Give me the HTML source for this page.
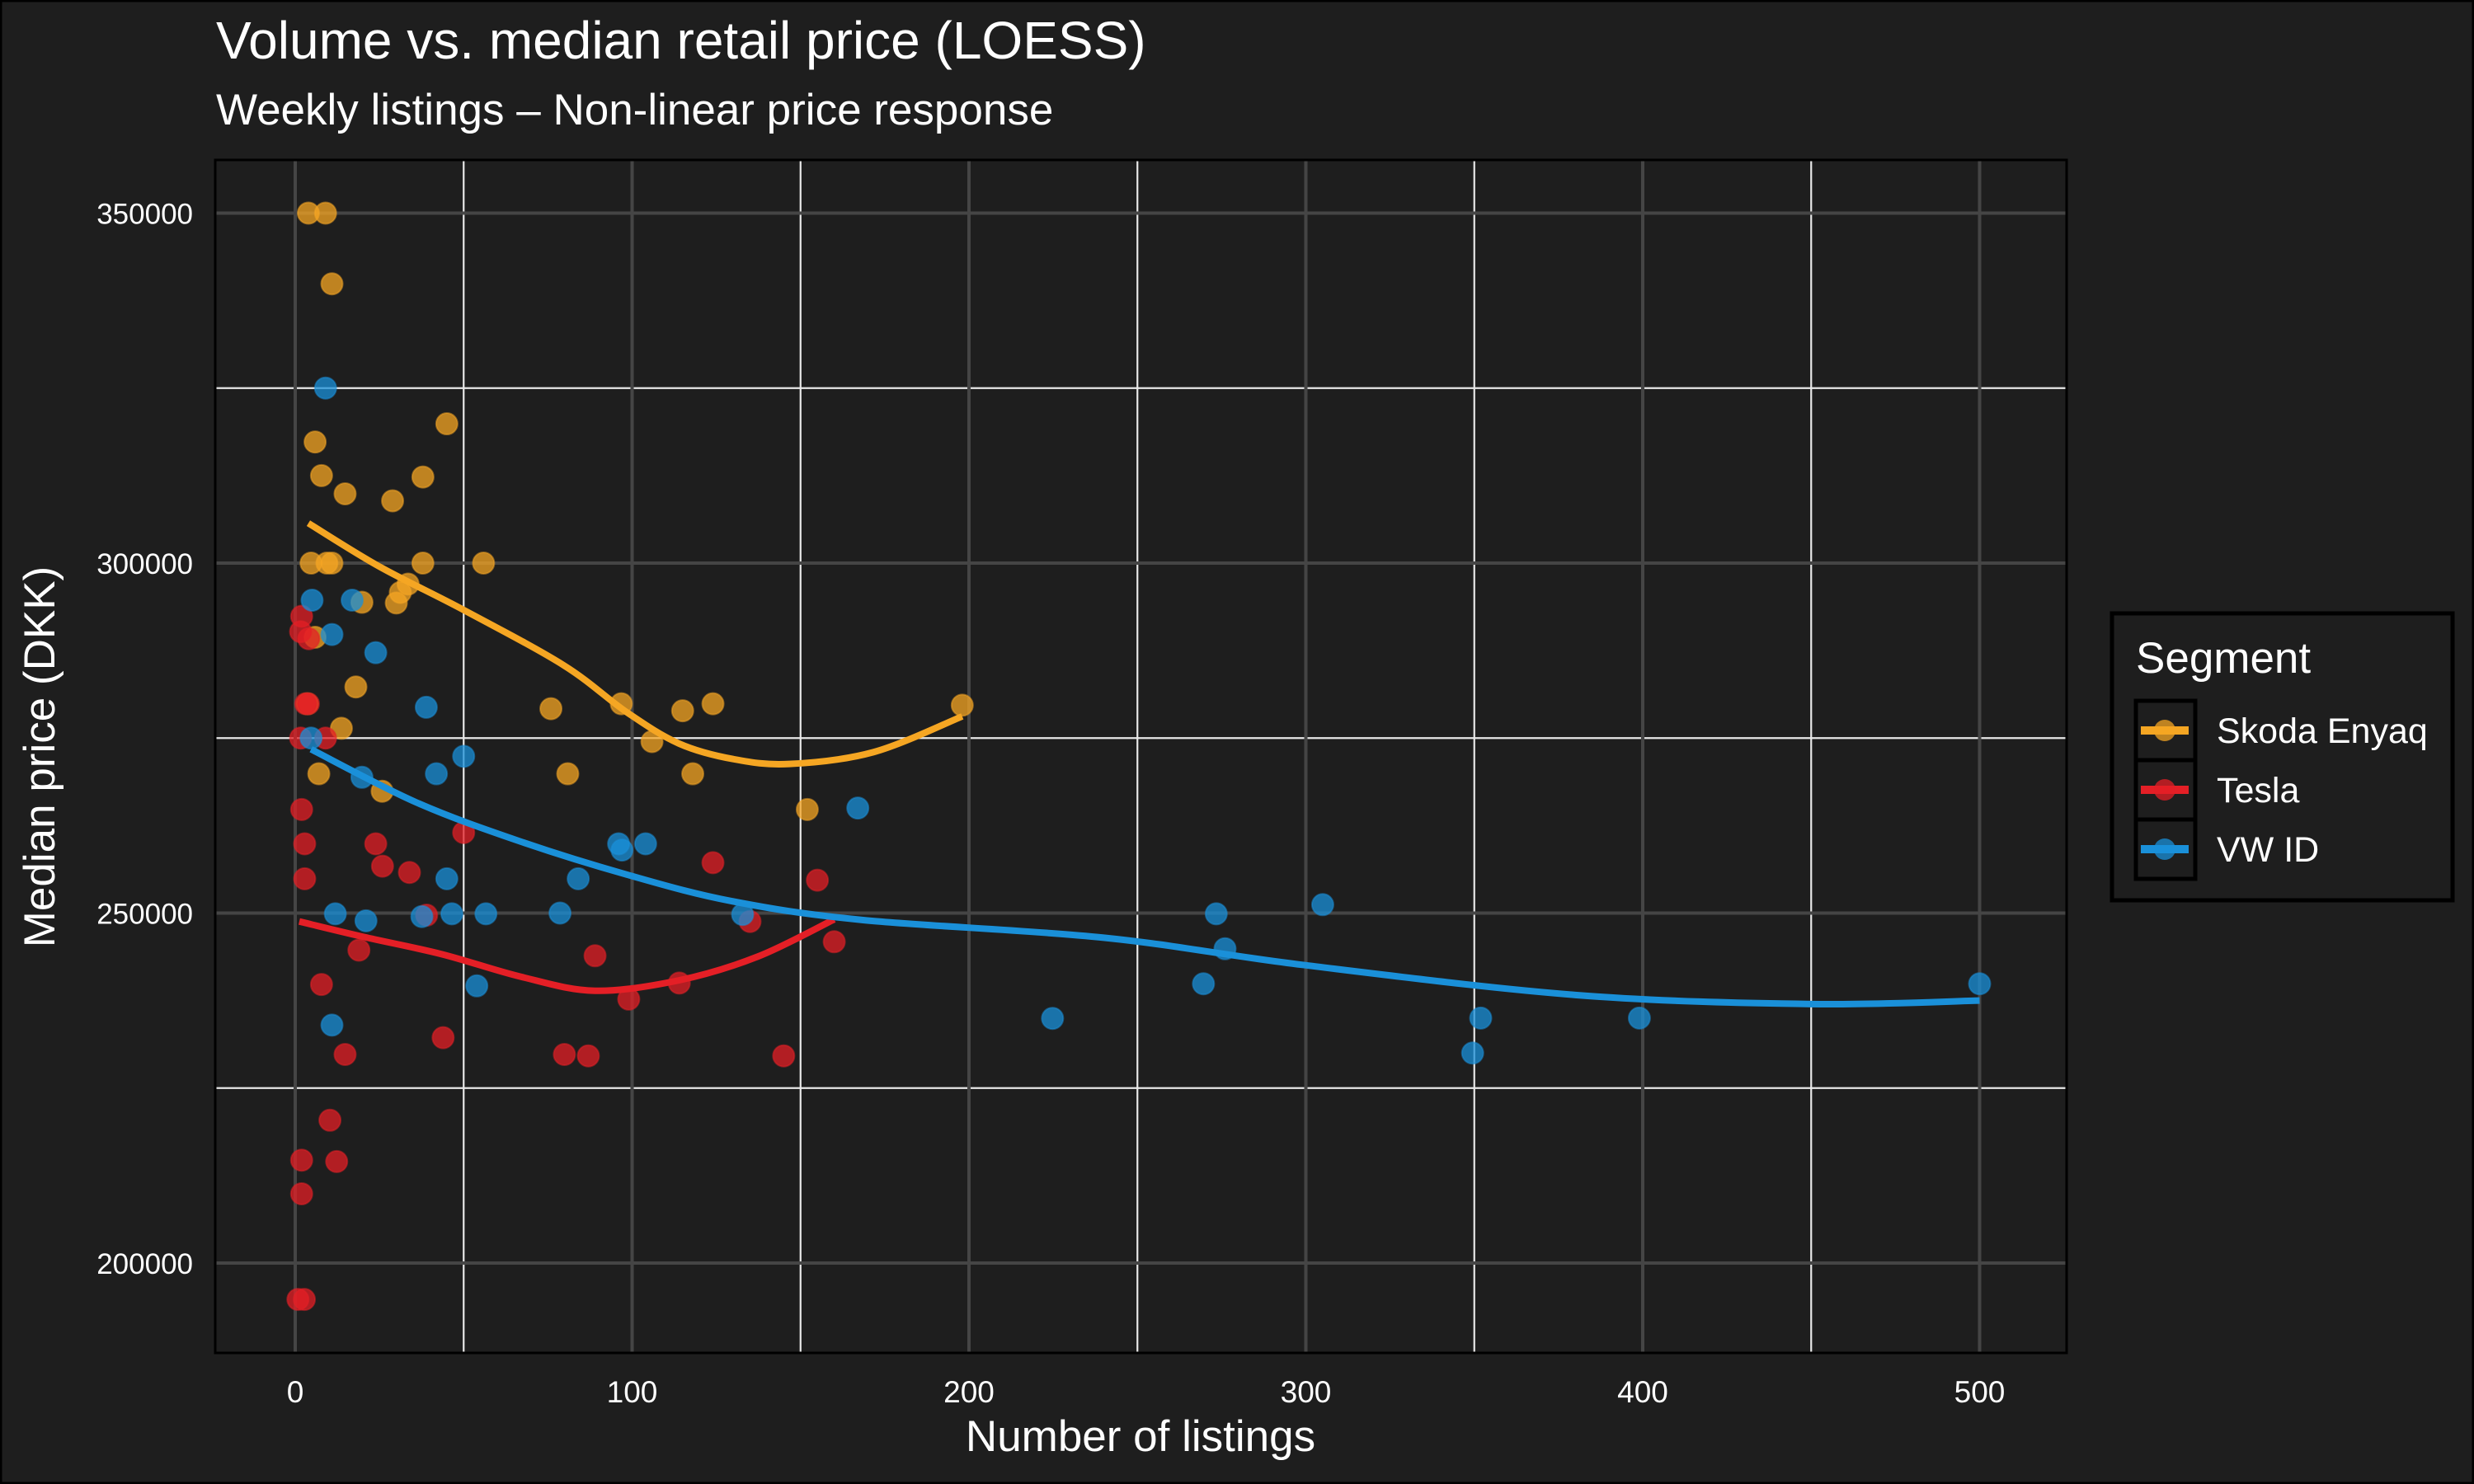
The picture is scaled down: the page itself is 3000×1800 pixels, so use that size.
<!DOCTYPE html>
<html><head><meta charset="utf-8"><style>
html,body{margin:0;padding:0;background:#1e1e1e;}
svg{display:block;font-family:"Liberation Sans",sans-serif;}
</style></head><body>
<svg id="chart" width="3000" height="1800" viewBox="0 0 3000 1800">
<rect x="1" y="1" width="2998" height="1798" fill="#1e1e1e" stroke="#000" stroke-width="3"/>
<text x="262" y="71" fill="#fff" font-size="64">Volume vs. median retail price (LOESS)</text>
<text x="262" y="151" fill="#fff" font-size="53">Weekly listings – Non-linear price response</text>
<g id="grid"></g>
<g id="axes"></g>
<g id="marks"></g>
<rect x="261" y="194" width="2245" height="1447" fill="none" stroke="#000" stroke-width="3"/>
<text x="1383" y="1760" fill="#fff" font-size="53" text-anchor="middle">Number of listings</text>
<text x="0" y="0" fill="#fff" font-size="53" text-anchor="middle" transform="translate(66,918) rotate(-90)">Median price (DKK)</text>
<g>
<rect x="2561" y="744" width="413" height="348" fill="#1e1e1e" stroke="#000" stroke-width="5"/>
<text x="2590" y="816" fill="#fff" font-size="53">Segment</text>
<g id="legend-keys"></g>
</g>
</svg>
<script>
const xTicks=[0,100,200,300,400,500];
const xMinor=[50,150,250,350,450];
const yTicks=[200000,250000,300000,350000];
const yMinor=[225000,275000,325000];
const seriesNames=["Skoda Enyaq","Tesla","VW ID"];
const seriesColors=["#f5a623","#e41f26","#1a90d9"];
const skodaX=[3.9,9.0,10.9,5.9,7.8,14.8,28.9,37.9,45,4.7,9.4,10.9,37.9,55.9,19.8,30,31.2,33.5,5.9,18,3.6,13.7,7,25.8,75.9,80.9,96.8,105.9,115,124,118,152,198];
const skodaY=[350000,350000,339900,317300,312500,309900,308900,312300,319900,300000,300000,300000,300000,300000,294400,294300,295800,297000,289400,282300,279900,276400,269900,267400,279200,269900,279900,274500,278900,279900,269900,264800,279700];
const teslaX=[1.9,1.6,4,3.1,3.9,9,1.6,1.9,2.8,2.8,23.9,25.9,33.9,50,39,18.9,7.8,14.8,43.9,79.9,87,89,99,114,124,135,145,155,160,10.3,12.3,1.9,1.9,0.8,2.7];
const teslaY=[292400,290200,289200,279900,279900,275000,275000,264800,259900,254900,259900,256700,255800,261500,249700,244700,239800,229800,232200,229800,229600,243900,237700,240000,257200,248800,229600,254700,245900,220400,214500,214700,209900,194800,194800];
const vwX=[9,5,16.9,10.9,23.9,38.9,4.7,19.8,41.9,50,45,11.9,21,37.6,46.5,56.6,53.9,78.6,84,96,97,104,132.8,167,10.9,224.8,269.6,273.4,276,305,349.5,351.9,399,500];
const vwY=[325000,294700,294700,289800,287200,279400,275000,269400,269900,272400,254900,249900,248900,249500,249900,249900,239600,250000,254900,259900,259000,259900,249800,265000,234000,234960,239900,249900,244900,251200,230000,235000,235000,239900];
const skodaFitX=[3.9,25,50,79.7,98.4,114,130,146.7,171.7,198];
const skodaFitY=[305700,299500,293300,285400,278700,274200,272000,271300,273000,278100];
const teslaFitX=[1.2,20.3,43.7,67,89,114,137.4,160];
const teslaFitY=[248800,246600,244100,240900,238900,240400,243800,249100];
const vwFitX=[4.7,36,67,98.4,129.6,168.6,239.7,299,380,450,500];
const vwFitY=[273400,265800,260200,255500,251700,249000,246500,242600,238300,237000,237500];

const NS="http://www.w3.org/2000/svg";
const L=261,R=2506,T=194,B=1641;
function sx(v){return 358+v*4.085;}
function sy(v){return 258.5+(350000-v)/50000*424.5;}
function mk(tag,attrs,parent){const e=document.createElementNS(NS,tag);for(const k in attrs)e.setAttribute(k,attrs[k]);parent.appendChild(e);return e;}
const grid=document.getElementById('grid'),axes=document.getElementById('axes'),marks=document.getElementById('marks');
xMinor.forEach(v=>{const e=mk('line',{x1:sx(v),x2:sx(v),y1:T,y2:B,stroke:'#e8e8e8','stroke-width':2.2},grid);

});
yMinor.forEach(v=>{const e=mk('line',{x1:L,x2:R,y1:sy(v),y2:sy(v),stroke:'#e8e8e8','stroke-width':2.2},grid);

});
xTicks.forEach(v=>{const e=mk('line',{x1:sx(v),x2:sx(v),y1:T,y2:B,stroke:'#454545','stroke-width':4},grid);


const t=mk('text',{x:sx(v),y:1701,fill:'#fff','font-size':37,'text-anchor':'middle'},axes);t.textContent=v;

});
yTicks.forEach(v=>{const e=mk('line',{x1:L,x2:R,y1:sy(v),y2:sy(v),stroke:'#454545','stroke-width':4},grid);


const t=mk('text',{x:234,y:sy(v)+13,fill:'#fff','font-size':35,'text-anchor':'end'},axes);t.textContent=v;

});
const pts=[[skodaX,skodaY],[teslaX,teslaY],[vwX,vwY]];
const fits=[[skodaFitX,skodaFitY],[teslaFitX,teslaFitY],[vwFitX,vwFitY]];
const slug=['skoda','tesla','vw'];
function smoothPath(xs,ys){const p=xs.map((x,i)=>[sx(x),sy(ys[i])]);let d='M'+p[0][0]+','+p[0][1];
for(let i=0;i<p.length-1;i++){const p0=p[i-1]||p[i],p1=p[i],p2=p[i+1],p3=p[i+2]||p2;
d+=' C'+(p1[0]+(p2[0]-p0[0])/6)+','+(p1[1]+(p2[1]-p0[1])/6)+' '+(p2[0]-(p3[0]-p1[0])/6)+','+(p2[1]-(p3[1]-p1[1])/6)+' '+p2[0]+','+p2[1];}return d;}
pts.forEach((s,k)=>{s[0].forEach((x,i)=>{const c=mk('circle',{cx:sx(x),cy:sy(s[1][i]),r:13,fill:seriesColors[k],'fill-opacity':0.75,stroke:seriesColors[k],'stroke-opacity':0.5,'stroke-width':2},marks);

});});
fits.forEach((f,k)=>{const p=mk('path',{d:smoothPath(f[0],f[1]),fill:'none',stroke:seriesColors[k],'stroke-width':8},marks);

});
const lk=document.getElementById('legend-keys');
seriesNames.forEach((n,k)=>{const y0=852+k*72;
const r=mk('rect',{x:2590,y:y0-2,width:72,height:72,fill:'#1e1e1e',stroke:'#000','stroke-width':5},lk);


const l=mk('line',{x1:2596,x2:2654,y1:y0+34,y2:y0+34,stroke:seriesColors[k],'stroke-width':10},lk);


const c=mk('circle',{cx:2625,cy:y0+34,r:13,fill:seriesColors[k],'fill-opacity':0.75},lk);


const t=mk('text',{x:2688,y:y0+49,fill:'#fff','font-size':43},lk);t.textContent=n;

});
</script>
</body></html>
